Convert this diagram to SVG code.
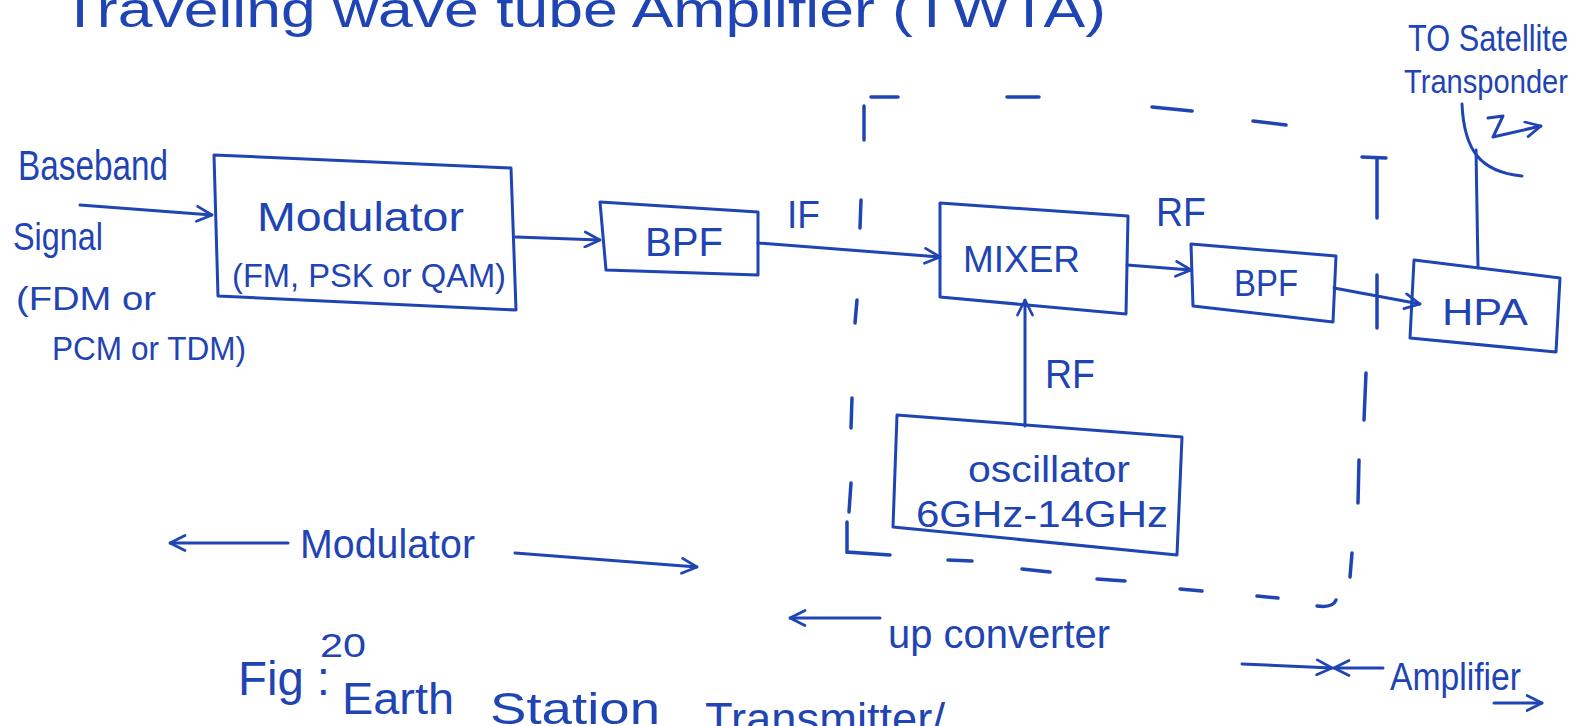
<svg xmlns="http://www.w3.org/2000/svg" width="1582" height="726" viewBox="0 0 1582 726">
  <style>
    .ink { fill: none; stroke: #1f44b3; stroke-width: 3; stroke-linecap: round; stroke-linejoin: round; }
    .box { fill: none; stroke: #1f44b3; stroke-width: 3; stroke-linejoin: round; }
    .dash { fill: none; stroke: #1f44b3; stroke-width: 3.5; stroke-linecap: round; }
    .t { fill: #1f44b3; font-family: "Liberation Sans", Arial, sans-serif; }
  </style>
  <defs>
    <marker id="arr" viewBox="0 0 12 12" refX="11" refY="6" markerWidth="18" markerHeight="18" markerUnits="userSpaceOnUse" orient="auto">
      <path d="M1,1 L11,6 L1,11" fill="none" stroke="#1f44b3" stroke-width="1.8" stroke-linecap="round" stroke-linejoin="round"/>
    </marker>
  </defs>
  <rect width="1582" height="726" fill="#ffffff"/>

  <g id="title">
    <text class="t" x="61" y="27" font-size="50" textLength="1045" lengthAdjust="spacingAndGlyphs">Traveling wave tube Amplifier (TWTA)</text>
  </g>

  <g id="satellite-label">
    <text class="t" x="1408" y="51" font-size="36" textLength="160" lengthAdjust="spacingAndGlyphs">TO Satellite</text>
    <text class="t" x="1404" y="93" font-size="33" textLength="164" lengthAdjust="spacingAndGlyphs">Transponder</text>
    <path class="ink" d="M1462,104 C1464,150 1480,172 1522,176" stroke-width="5"/>
    <path class="ink" d="M1488,118 L1503,116 L1493,137 L1541,126" marker-end="url(#arr)"/>
  </g>

  <g id="input-label">
    <text class="t" x="18" y="180" font-size="42" textLength="150" lengthAdjust="spacingAndGlyphs">Baseband</text>
    <text class="t" x="13" y="250" font-size="38" textLength="90" lengthAdjust="spacingAndGlyphs">Signal</text>
    <text class="t" x="16" y="310" font-size="34" textLength="140" lengthAdjust="spacingAndGlyphs">(FDM or</text>
    <text class="t" x="52" y="360" font-size="34" textLength="194" lengthAdjust="spacingAndGlyphs">PCM or TDM)</text>
  </g>

  <g id="modulator">
    <polygon class="box" points="214,155 511,168 516,310 218,296"/>
    <text class="t" x="257" y="231" font-size="40" textLength="207" lengthAdjust="spacingAndGlyphs">Modulator</text>
    <text class="t" x="232" y="287" font-size="34" textLength="274" lengthAdjust="spacingAndGlyphs">(FM, PSK or QAM)</text>
  </g>

  <g id="bpf1">
    <polygon class="box" points="600,202 758,212 758,275 606,270"/>
    <text class="t" x="645" y="256" font-size="40" textLength="78" lengthAdjust="spacingAndGlyphs">BPF</text>
  </g>

  <g id="mixer">
    <polygon class="box" points="940,203 1128,216 1126,314 940,297"/>
    <text class="t" x="963" y="272" font-size="36" textLength="117" lengthAdjust="spacingAndGlyphs">MIXER</text>
  </g>

  <g id="bpf2">
    <polygon class="box" points="1191,244 1336,256 1333,322 1193,306"/>
    <text class="t" x="1234" y="296" font-size="36" textLength="64" lengthAdjust="spacingAndGlyphs">BPF</text>
  </g>

  <g id="hpa">
    <polygon class="box" points="1414,260 1560,278 1556,352 1410,338"/>
    <text class="t" x="1442" y="325" font-size="36" textLength="86" lengthAdjust="spacingAndGlyphs">HPA</text>
  </g>

  <g id="oscillator">
    <polygon class="box" points="897,415 1182,437 1177,555 893,527"/>
    <text class="t" x="968" y="482" font-size="36" textLength="162" lengthAdjust="spacingAndGlyphs">oscillator</text>
    <text class="t" x="916" y="527" font-size="36" textLength="252" lengthAdjust="spacingAndGlyphs">6GHz-14GHz</text>
  </g>

  <g id="connectors">
    <path class="ink" d="M80,205 L212,215" marker-end="url(#arr)"/>
    <path class="ink" d="M516,237 L600,240" marker-end="url(#arr)"/>
    <path class="ink" d="M758,243 L940,257" marker-end="url(#arr)"/>
    <path class="ink" d="M1127,265 L1191,270" marker-end="url(#arr)"/>
    <path class="ink" d="M1334,288 L1420,304" marker-end="url(#arr)"/>
    <path class="ink" d="M1025,426 L1025,300" marker-end="url(#arr)"/>
    <path class="ink" d="M1478,268 L1476,150"/>
  </g>

  <g id="connector-labels">
    <text class="t" x="787" y="228" font-size="38" textLength="33" lengthAdjust="spacingAndGlyphs">IF</text>
    <text class="t" x="1156" y="226" font-size="40" textLength="50" lengthAdjust="spacingAndGlyphs">RF</text>
    <text class="t" x="1045" y="388" font-size="40" textLength="50" lengthAdjust="spacingAndGlyphs">RF</text>
  </g>

  <g id="upconverter-boundary">
    <path class="dash" d="M864,106 L864,140"/>
    <path class="dash" d="M871,97 L898,97"/>
    <path class="dash" d="M1007,97 L1039,97"/>
    <path class="dash" d="M1152,107 L1192,111"/>
    <path class="dash" d="M1253,121 L1286,125"/>
    <path class="dash" d="M1362,157 L1386,158"/>
    <path class="dash" d="M1377,158 L1377,218"/>
    <path class="dash" d="M1377,275 L1377,328"/>
    <path class="dash" d="M1366,373 L1364,420"/>
    <path class="dash" d="M1359,460 L1358,503"/>
    <path class="dash" d="M1352,553 L1350,577"/>
    <path class="dash" d="M1317,606 Q1333,608 1336,600"/>
    <path class="dash" d="M1257,596 L1278,598"/>
    <path class="dash" d="M1180,589 L1202,591"/>
    <path class="dash" d="M1097,579 L1125,581"/>
    <path class="dash" d="M1022,569 L1050,572"/>
    <path class="dash" d="M948,560 L972,561"/>
    <path class="dash" d="M847,522 L847,552 L890,555"/>
    <path class="dash" d="M851,483 L849,512"/>
    <path class="dash" d="M852,398 L851,428"/>
    <path class="dash" d="M857,300 L855,323"/>
    <path class="dash" d="M861,200 L860,228"/>
  </g>

  <g id="section-labels">
    <path class="ink" d="M288,543 L170,543" marker-end="url(#arr)"/>
    <text class="t" x="300" y="558" font-size="40" textLength="175" lengthAdjust="spacingAndGlyphs">Modulator</text>
    <path class="ink" d="M515,553 L697,567" marker-end="url(#arr)"/>

    <path class="ink" d="M880,618 L790,618" marker-end="url(#arr)"/>
    <text class="t" x="888" y="648" font-size="40" textLength="222" lengthAdjust="spacingAndGlyphs">up converter</text>

    <path class="ink" d="M1242,664 L1332,668" marker-end="url(#arr)"/>
    <path class="ink" d="M1383,668 L1334,668" marker-end="url(#arr)"/>
    <text class="t" x="1390" y="690" font-size="38" textLength="131" lengthAdjust="spacingAndGlyphs">Amplifier</text>
    <path class="ink" d="M1494,703 L1542,703" marker-end="url(#arr)"/>
  </g>

  <g id="caption">
    <text class="t" x="320" y="657" font-size="34" textLength="46" lengthAdjust="spacingAndGlyphs">20</text>
    <text class="t" x="238" y="695" font-size="48" textLength="92" lengthAdjust="spacingAndGlyphs">Fig :</text>
    <text class="t" x="342" y="714" font-size="44" textLength="112" lengthAdjust="spacingAndGlyphs">Earth</text>
    <text class="t" x="490" y="724" font-size="44" textLength="170" lengthAdjust="spacingAndGlyphs">Station</text>
    <text class="t" x="705" y="734" font-size="44" textLength="240" lengthAdjust="spacingAndGlyphs">Transmitter/</text>
  </g>
</svg>
